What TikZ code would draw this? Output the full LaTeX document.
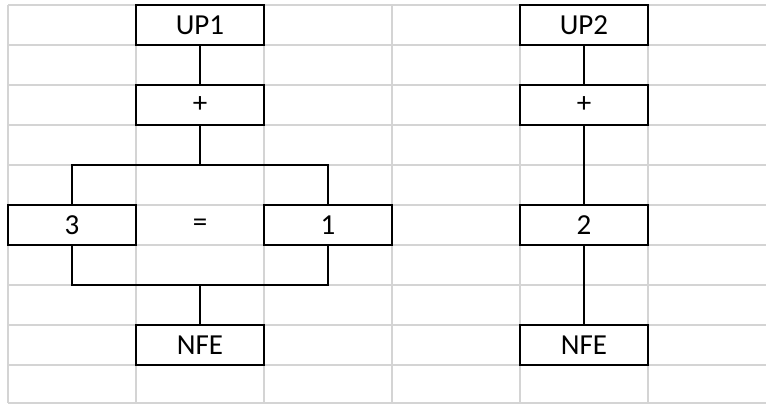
\documentclass[tikz,border=0pt]{standalone}
\usepackage{fontspec}
\setmainfont{Carlito}
\definecolor{gridgray}{RGB}{212,212,212}

\begin{document}
\begin{tikzpicture}[x=1pt,y=-1pt,font=\fontsize{29}{34}\selectfont]
\tikzset{
% sheet lines, boxed cells and the links between them
sheet/.style={draw=gridgray,line width=2pt},
cell box/.style={draw,line width=2pt,minimum width=128pt,minimum height=40pt,inner sep=0pt},
plain cell/.style={minimum width=128pt,minimum height=40pt,inner sep=0pt},
link/.style={draw,line width=1.8pt}
}
\useasboundingbox (0,0) rectangle (766,405);

% the sheet grid
\foreach \r in {0,...,9} \draw[sheet] (8,5+40*\r) -- (766,5+40*\r);
\draw[sheet] (8,403) -- (766,403);
\foreach \c in {0,...,5} \draw[sheet] (8+128*\c,5) -- (8+128*\c,403);

% left tree
\node(up1)[cell box] at (200,25) {UP1};
\node(plus1)[cell box] at (200,105) {+};
\node(three)[cell box] at (72,225) {3};
\node(eq)[plain cell] at (200,225) {=};
\node(one)[cell box] at (328,225) {1};
\node(nfe1)[cell box] at (200,345) {NFE};
\coordinate (top bar) at (200,165);
\coordinate (low bar) at (200,285);

\draw[link] (up1) -- (plus1);
\draw[link] (plus1) -- (top bar);
\draw[link] (three.north) |- (top bar) -| (one.north);
\draw[link] (three.south) |- (low bar) -| (one.south);
\draw[link] (low bar) -- (nfe1);

% right tree
\node(up2)[cell box] at (584,25) {UP2};
\node(plus2)[cell box] at (584,105) {+};
\node(two)[cell box] at (584,225) {2};
\node(nfe2)[cell box] at (584,345) {NFE};

\draw[link] (up2) -- (plus2);
\draw[link] (plus2) -- (two);
\draw[link] (two) -- (nfe2);
\end{tikzpicture}
\end{document}
